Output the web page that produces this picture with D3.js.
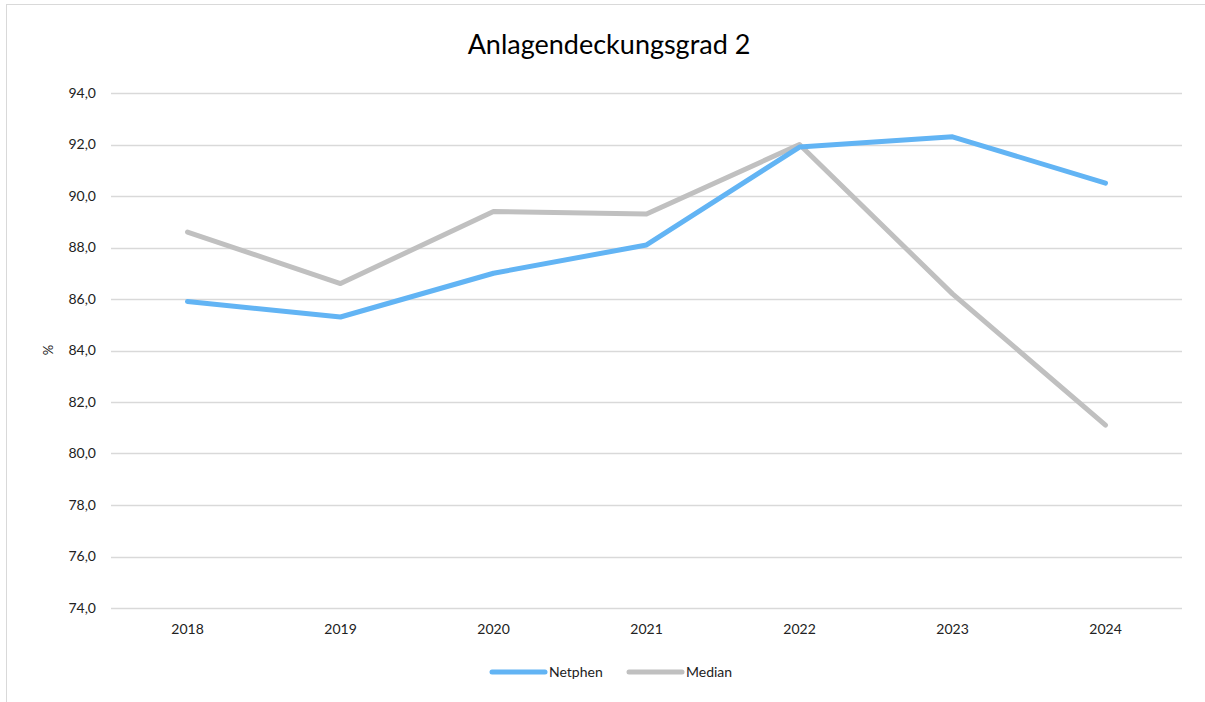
<!DOCTYPE html>
<html>
<head>
<meta charset="utf-8">
<script src="https://cdn.jsdelivr.net/npm/d3@7"></script>
<style>
  html, body { margin: 0; padding: 0; background: #fff; }
  svg { display: block; font-family: Lato, "Open Sans", sans-serif; }
</style>
</head>
<body>
<svg id="chart" width="1205" height="702"></svg>
<script>
// Jahre und Kennzahlen
const years = ["2018", "2019", "2020", "2021", "2022", "2023", "2024"];
const netphen = [85.9, 85.3, 87.0, 88.1, 91.9, 92.3, 90.5];
const median = [88.6, 86.6, 89.4, 89.3, 92.0, 86.2, 81.1];
const yTicks = [74, 76, 78, 80, 82, 84, 86, 88, 90, 92, 94];
const seriesNames = ["Netphen", "Median"];
const seriesColors = ["#62b4f4", "#c0c0c0"];

const svg = d3.select("#chart");
const W = 1205, H = 702;
const plot = { left: 111, right: 1182, top: 93, bottom: 608 };
const font = "Lato, 'Open Sans', sans-serif";

// Rahmen des Diagrammbereichs
svg.append("rect")
  .attr("x", 6.5).attr("y", 4.5)
  .attr("width", W + 10).attr("height", H + 10)
  .attr("fill", "#fff").attr("stroke", "#d9d9d9").attr("stroke-width", 1);

const x = d3.scaleBand().domain(years).range([plot.left, plot.right]).padding(0);
const y = d3.scaleLinear().domain([74, 94]).range([plot.bottom, plot.top]);

// Titel
svg.append("text")
  .attr("x", 609).attr("y", 54)
  .attr("text-anchor", "middle")
  .attr("font-size", 27).attr("fill", "#000")
  .text("Anlagendeckungsgrad 2");

// Gitterlinien
svg.append("g")
  .selectAll("line").data(yTicks).join("line")
  .attr("x1", plot.left).attr("x2", plot.right)
  .attr("y1", d => Math.round(y(d)) + 0.5).attr("y2", d => Math.round(y(d)) + 0.5)
  .attr("stroke", "#d9d9d9").attr("stroke-width", 1.5);

// Y-Achse
const fmt = d => d.toFixed(1).replace(".", ",");
const yAxis = svg.append("g")
  .attr("transform", `translate(${plot.left - 15},0)`)
  .call(d3.axisLeft(y).tickValues(yTicks).tickFormat(fmt).tickSize(0).tickPadding(0));
yAxis.select(".domain").remove();
yAxis.selectAll("text").attr("font-size", 14).attr("fill", "#222").attr("font-family", font);

// X-Achse
const xAxis = svg.append("g")
  .attr("transform", `translate(0,${plot.bottom + 16})`)
  .call(d3.axisBottom(x).tickSize(0).tickPadding(0));
xAxis.select(".domain").remove();
xAxis.selectAll("text").attr("font-size", 14).attr("fill", "#222").attr("dy", "0.71em").attr("font-family", font);

// Achsentitel
svg.append("text")
  .attr("transform", `translate(${53},${350}) rotate(-90)`)
  .attr("text-anchor", "middle")
  .attr("font-size", 13).attr("fill", "#222")
  .text("%");

// Linien
const line = d3.line()
  .x((d, i) => x(years[i]) + x.bandwidth() / 2)
  .y(d => y(d));

[median, netphen].forEach(vals => {
  const idx = vals === netphen ? 0 : 1;
  svg.append("path")
    .datum(vals)
    .attr("d", line)
    .attr("fill", "none")
    .attr("stroke", seriesColors[idx])
    .attr("stroke-width", 5)
    .attr("stroke-linecap", "round")
    .attr("stroke-linejoin", "round");
});

// Legende
const legendItems = [
  { name: seriesNames[0], color: seriesColors[0], x: 492 },
  { name: seriesNames[1], color: seriesColors[1], x: 629 }
];
const lg = svg.append("g");
legendItems.forEach(it => {
  lg.append("line")
    .attr("x1", it.x).attr("x2", it.x + 53)
    .attr("y1", 672).attr("y2", 672)
    .attr("stroke", it.color).attr("stroke-width", 5)
    .attr("stroke-linecap", "round");
  lg.append("text")
    .attr("x", it.x + 57).attr("y", 677)
    .attr("font-size", 14).attr("fill", "#222").attr("font-family", font)
    .text(it.name);
});
</script>
</body>
</html>
